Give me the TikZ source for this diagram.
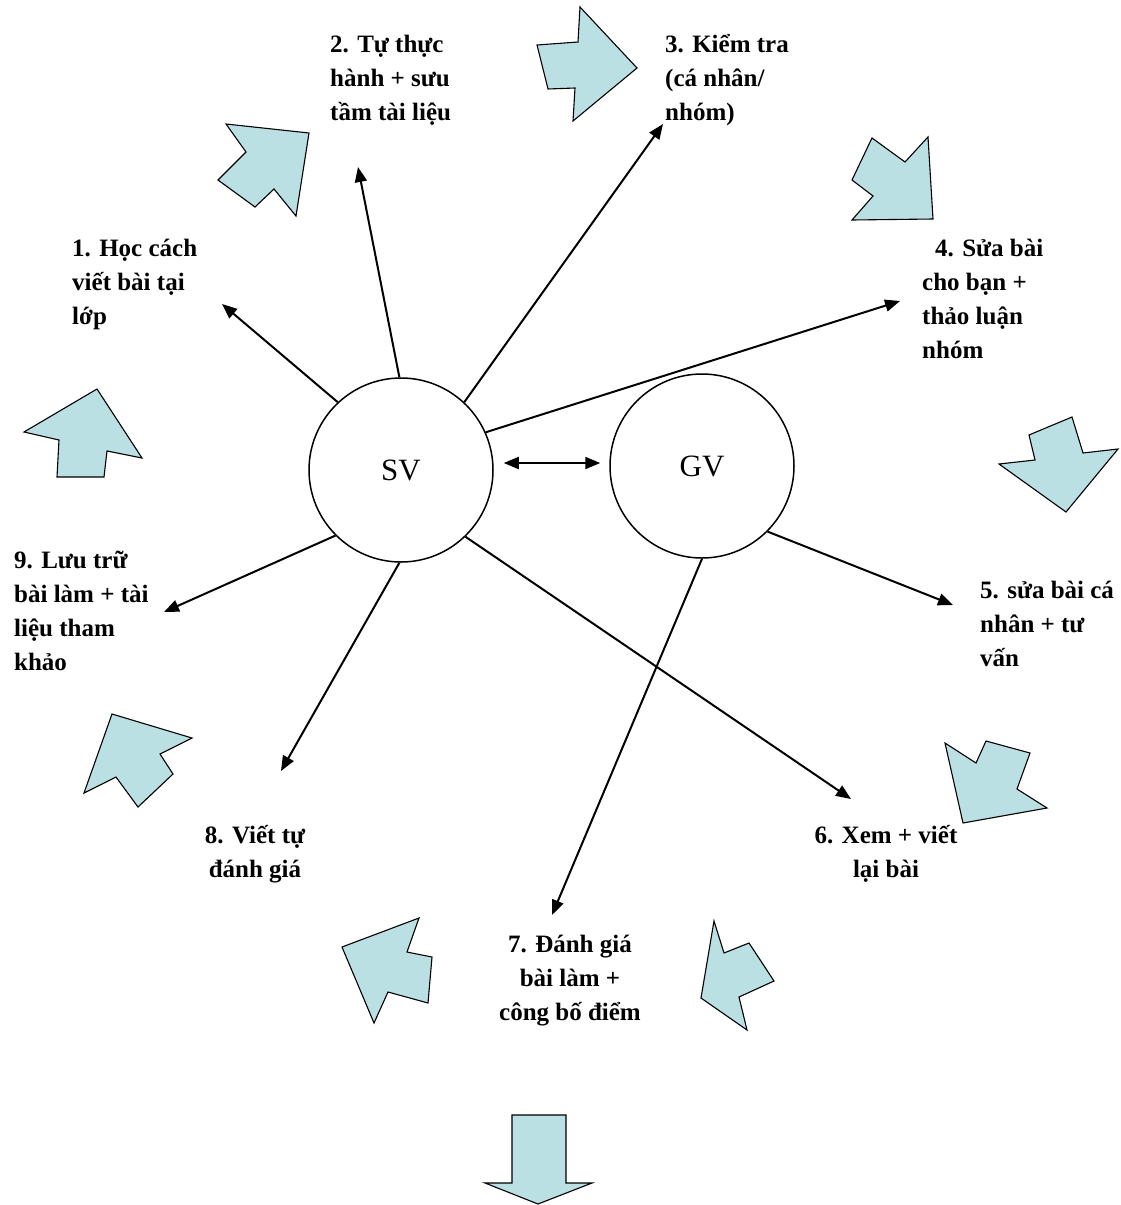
\documentclass[tikz,border=0pt]{standalone}
\usepackage{fontspec}
\setmainfont{Liberation Serif}
\usetikzlibrary{arrows.meta}
\definecolor{blkfill}{RGB}{187,224,228}
\begin{document}
\begin{tikzpicture}[x=1pt,y=-1pt,
  >={Triangle[length=15pt,width=12pt]},
  blk/.style={draw=black,line width=1.1pt,fill=blkfill,line join=miter},
  circ/.style={circle,draw=black,line width=1.5pt,minimum size=184pt,inner sep=0pt,font=\fontsize{31}{36}\selectfont},
  lbl/.style={inner sep=0pt,anchor=base west,align=left,font=\fontsize{25}{34}\selectfont\bfseries},
  lblc/.style={inner sep=0pt,anchor=base,align=center,font=\fontsize{25}{34}\selectfont\bfseries},
  conn/.style={line width=2pt,->}]
\useasboundingbox (0,0) rectangle (1120,1205);
\fill[white] (0,0) rectangle (1120,1205);

% block arrows
\draw[blk] (309,133) -- (296,216) -- (274,189) -- (255,207) -- (218,180) -- (246,152) -- (226,124) -- cycle;
\draw[blk] (637,68) -- (573,121) -- (575,88) -- (548,89) -- (537,45) -- (578,42) -- (580,7) -- cycle;
\draw[blk] (933,219) -- (852,220) -- (873,196) -- (852,180) -- (872,138) -- (905,162) -- (928,137) -- cycle;
\draw[blk] (1066,512) -- (999,464) -- (1035,460) -- (1029,435) -- (1072,417) -- (1083,453) -- (1118,449) -- cycle;
\draw[blk] (963,823) -- (945,743) -- (976,763) -- (986,741) -- (1030,753) -- (1017,789) -- (1047,808) -- cycle;
\draw[blk] (701,998) -- (714,921) -- (724,953) -- (749,943) -- (774,981) -- (739,997) -- (747,1030) -- cycle;
\draw[blk] (342,947) -- (419,918) -- (407,952) -- (432,957) -- (428,1003) -- (388,992) -- (374,1023) -- cycle;
\draw[blk] (112,714) -- (192,738) -- (160,754) -- (173,774) -- (138,807) -- (116,777) -- (84,793) -- cycle;
\draw[blk] (97,389) -- (142,458) -- (107,451) -- (104,477) -- (57,477) -- (59,440) -- (24,432) -- cycle;
\draw[blk] (512,1115) -- (566,1115) -- (566,1183) -- (592,1183) -- (538,1204) -- (485,1183) -- (512,1183) -- cycle;

% circles
\node[circ] (SV) at (401,470) {SV};
\node[circ] (GV) at (702,466) {GV};

% labels (anchor = baseline of last line)
\node[lbl] (t1) at (72,324) {1. Học cách\\viết bài tại\\lớp};
\node[lbl] (t2) at (330,120) {2. Tự thực\\hành + sưu\\tầm tài liệu};
\node[lbl] (t3) at (665,120) {3. Kiểm tra\\(cá nhân/\\nhóm)};
\node[lbl] (t4) at (922,358) {\hspace*{13pt}4. Sửa bài\\cho bạn +\\thảo luận\\nhóm};
\node[lbl] (t5) at (980,666) {5. sửa bài cá\\nhân + tư\\vấn};
\node[lblc] (t6) at (886,877) {6. Xem + viết\\lại bài};
\node[lblc] (t7) at (570,1020) {7. Đánh giá\\bài làm +\\công bố điểm};
\node[lblc] (t8) at (255,877) {8. Viết tự\\đánh giá};
\node[lbl] (t9) at (14,670) {9. Lưu trữ\\bài làm + tài\\liệu tham\\khảo};

% connector ends
\coordinate (e1) at (222,304);
\coordinate (e2) at (358,167);
\coordinate (e3) at (663,124);
\coordinate (e4) at (900,301);
\coordinate (e5) at (953,605);
\coordinate (e6) at (851,799);
\coordinate (e7) at (552,915);
\coordinate (e8) at (281,771);
\coordinate (e9) at (164,612);

\draw[conn] (SV.133) -- (e1);
\draw[conn] (SV.91) -- (e2);
\draw[conn] (SV.47) -- (e3);
\draw[conn] (SV.24) -- (e4);
\draw[conn] (SV.225) -- (e9);
\draw[conn] (SV.269) -- (e8);
\draw[conn] (SV.314) -- (e6);
\draw[conn] (GV.315) -- (e5);
\draw[conn] (GV.270) -- (e7);
\draw[line width=2pt,<->] ([shift={(10,-7)}]SV.east) -- ([shift={(-9,-3)}]GV.west);
\end{tikzpicture}
\end{document}
